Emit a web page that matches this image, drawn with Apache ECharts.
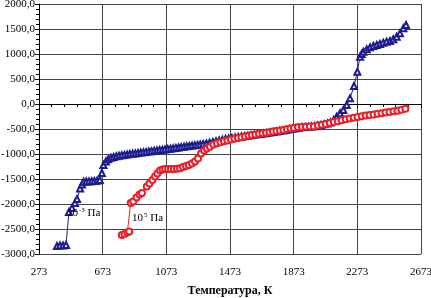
<!DOCTYPE html>
<html>
<head>
<meta charset="utf-8">
<script src="https://cdn.jsdelivr.net/npm/echarts@6/dist/echarts.min.js"></script>
<style>
  html, body { margin: 0; padding: 0; background: #fff; }
  #main { width: 431px; height: 298px; }
</style>
</head>
<body>
<div id="main"></div>
<script>
// 10^-3 Pa curve (triangles)
const blueT = [386, 405, 424, 443, 461, 480, 499, 512, 531, 543, 553, 570, 587, 604, 621, 638, 655, 668, 678, 693,
  708, 725, 742, 759, 776, 793, 810, 827, 844, 861, 878, 895, 912, 929, 946, 963, 980, 997, 1014, 1031,
  1048, 1065, 1082, 1099, 1116, 1133, 1150, 1167, 1184, 1201, 1218, 1235, 1252, 1269, 1286, 1305, 1325, 1345, 1365, 1385,
  1405, 1425, 1445, 1465, 1485, 1505, 1525, 1545, 1565, 1585, 1605, 1625, 1645, 1665, 1685, 1705, 1725, 1745, 1765, 1785,
  1805, 1825, 1845, 1865, 1885, 1905, 1925, 1945, 1965, 1985, 2005, 2025, 2045, 2065, 2085, 2105, 2125, 2143, 2164, 2185,
  2206, 2227, 2252, 2273, 2290, 2300, 2311, 2332, 2353, 2374, 2395, 2415, 2436, 2457, 2478, 2499, 2520, 2541, 2562, 2579];
const blueV = [-2840, -2830, -2830, -2820, -2160, -2080, -1980, -1900, -1690, -1610, -1555, -1550, -1548, -1545, -1540, -1535, -1520, -1380, -1220, -1150,
  -1105, -1075, -1060, -1045, -1035, -1025, -1018, -1010, -1002, -995, -988, -980, -972, -966, -958, -950, -943, -936, -929, -922,
  -915, -908, -900, -893, -886, -878, -870, -862, -855, -847, -840, -832, -825, -818, -810, -800, -790, -775, -758, -745,
  -730, -715, -700, -690, -680, -670, -662, -652, -645, -635, -626, -617, -607, -598, -588, -578, -568, -558, -548, -538,
  -528, -518, -505, -494, -484, -474, -466, -460, -455, -450, -445, -430, -418, -404, -390, -370, -320, -254, -186, -120,
  -20, 113, 360, 646, 946, 1000, 1046, 1093, 1133, 1160, 1180, 1200, 1227, 1247, 1260, 1293, 1346, 1413, 1513, 1580];

// 10^5 Pa curve (circles)
const redT = [793, 810, 828, 840, 849, 865, 886, 905, 920, 950, 967, 986, 1002, 1017, 1033, 1049, 1065, 1084, 1102, 1121,
  1140, 1159, 1178, 1197, 1215, 1234, 1253, 1272, 1291, 1310, 1328, 1347, 1369, 1391, 1413, 1435, 1457, 1479, 1501, 1523,
  1545, 1567, 1589, 1611, 1633, 1655, 1677, 1699, 1721, 1743, 1765, 1787, 1809, 1831, 1853, 1875, 1900, 1925, 1950, 1975,
  2000, 2025, 2050, 2075, 2100, 2125, 2150, 2175, 2200, 2225, 2250, 2275, 2300, 2325, 2350, 2375, 2400, 2425, 2450, 2475,
  2500, 2525, 2550, 2575];
const redV = [-2620, -2600, -2570, -2550, -1980, -1950, -1870, -1810, -1780, -1650, -1590, -1520, -1450, -1390, -1330, -1310, -1300, -1300, -1300, -1300,
  -1295, -1285, -1260, -1240, -1220, -1190, -1150, -1090, -990, -930, -890, -855, -810, -785, -765, -745, -730, -710, -695, -680,
  -665, -650, -635, -622, -610, -597, -585, -575, -563, -550, -540, -530, -520, -505, -490, -478, -465, -460, -455, -452,
  -448, -432, -415, -398, -380, -362, -343, -324, -305, -290, -275, -262, -245, -232, -220, -208, -195, -183, -170, -158,
  -146, -133, -115, -95];

const xTicks = [273, 2673, 400]; // min, max, step
const yTicks = [-3000, 2000, 500];

const FONT = 'Liberation Serif';
const chart = echarts.init(document.getElementById('main'));

const blueData = blueT.map((t, i) => [t, blueV[i]]);
const redData = redT.map((t, i) => [t, redV[i]]);

const supLabel = (exp) => ({
  show: true,
  position: 'right',
  distance: 0,
  formatter: '{a|10}{s|' + exp + '}{a| Па}',
  rich: {
    a: { fontFamily: FONT, fontSize: 11, color: '#000', lineHeight: 12, verticalAlign: 'bottom' },
    s: { fontFamily: FONT, fontSize: 7, color: '#000', lineHeight: 12, verticalAlign: 'top', padding: [0, 0, 5, 1] }
  }
});

const option = {
  animation: false,
  grid: { left: 39, right: 10, top: 4, bottom: 44, outerBoundsMode: 'none' },
  xAxis: {
    type: 'value',
    min: xTicks[0], max: xTicks[1], interval: xTicks[2],
    name: 'Температура, К',
    nameLocation: 'middle',
    nameGap: 31,
    nameTextStyle: { fontFamily: FONT, fontSize: 12, fontWeight: 'bold', color: '#000' },
    axisLine: { lineStyle: { color: '#000', width: 1 } },
    axisTick: { length: 4, lineStyle: { color: '#000' } },
    minorTick: { show: true, splitNumber: 5, length: 3, lineStyle: { color: '#000' } },
    axisLabel: { fontFamily: FONT, fontSize: 11, color: '#000', margin: 13, formatter: (v) => String(v) },
    splitLine: { show: true, lineStyle: { color: '#444', width: 1 } }
  },
  yAxis: {
    type: 'value',
    min: yTicks[0], max: yTicks[1], interval: yTicks[2],
    axisLine: { show: true, lineStyle: { color: '#000', width: 1 } },
    axisTick: { show: true, length: 4, lineStyle: { color: '#000' } },
    minorTick: { show: true, splitNumber: 5, length: 3, lineStyle: { color: '#000' } },
    axisLabel: {
      fontFamily: FONT, fontSize: 11, color: '#000', margin: 4,
      formatter: (v) => v.toFixed(1).replace('.', ',')
    },
    splitLine: { show: true, lineStyle: { color: '#444', width: 1 } }
  },
  series: [
    {
      name: '10-3 Па',
      type: 'line',
      data: blueData,
      symbol: 'emptyTriangle',
      symbolSize: 6,
      lineStyle: { color: '#1c1c8c', width: 1 },
      itemStyle: { color: '#1c1c8c', borderWidth: 0.7 },
      markPoint: {
        symbol: 'circle', symbolSize: 0,
        data: [{ coord: [449, -2180], label: supLabel('-3') }]
      }
    },
    {
      name: '10^5 Па',
      type: 'line',
      data: redData,
      symbol: 'emptyCircle',
      symbolSize: 6,
      lineStyle: { color: '#e8202a', width: 1 },
      itemStyle: { color: '#e8202a', borderWidth: 0.7 },
      markPoint: {
        symbol: 'circle', symbolSize: 0,
        data: [{ coord: [857, -2280], label: supLabel('5') }]
      }
    }
  ]
};

chart.setOption(option);
</script>
</body>
</html>
